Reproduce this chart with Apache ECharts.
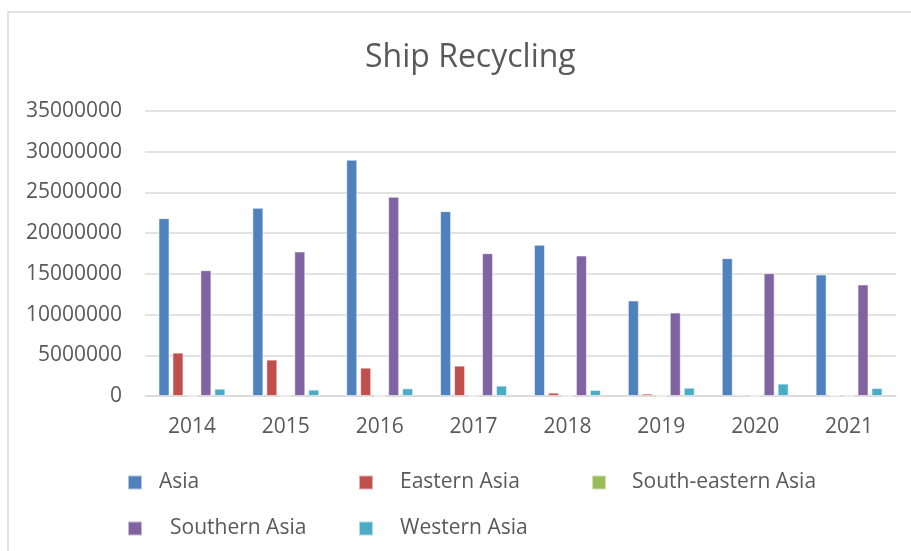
<!DOCTYPE html>
<html>
<head>
<meta charset="utf-8">
<script src="https://cdn.jsdelivr.net/npm/echarts@6/dist/echarts.min.js"></script>
<style>html,body{margin:0;padding:0;background:#fff;}#c{width:911px;height:551px;}</style>
</head>
<body>
<div id="c"></div>
<script>
const years = ['2014','2015','2016','2017','2018','2019','2020','2021'];
const asia = [21840000, 23110000, 29020000, 22700000, 18570000, 11720000, 16930000, 14920000];
const easternAsia = [5330000, 4470000, 3480000, 3730000, 410000, 290000, 160000, 60000];
const southEasternAsia = [0, 0, 0, 0, 0, 0, 0, 0];
const southernAsia = [15450000, 17750000, 24470000, 17540000, 17250000, 10250000, 15080000, 13690000];
const westernAsia = [900000, 780000, 940000, 1270000, 740000, 1020000, 1520000, 980000];
const yTicks = [0, 5000000, 10000000, 15000000, 20000000, 25000000, 30000000, 35000000];

const FONT = 'Open Sans';
const TXT = '#595959';
const colors = {
  'Asia': '#4F81BD',
  'Eastern Asia': '#C0504D',
  'South-eastern Asia': '#9BBB59',
  'Southern Asia': '#8064A2',
  'Western Asia': '#4BACC6'
};
const seriesData = [
  ['Asia', asia],
  ['Eastern Asia', easternAsia],
  ['South-eastern Asia', southEasternAsia],
  ['Southern Asia', southernAsia],
  ['Western Asia', westernAsia]
];
const legendPos = [
  {name:'Asia', left:127, top:472, pad:12},
  {name:'Eastern Asia', left:358, top:472, pad:22},
  {name:'South-eastern Asia', left:591, top:472, pad:21},
  {name:'Southern Asia', left:127, top:518, pad:23},
  {name:'Western Asia', left:358, top:518, pad:22}
];

const chart = echarts.init(document.getElementById('c'), null, {renderer:'canvas'});
chart.setOption({
  animation: false,
  backgroundColor: '#fff',
  title: {
    text: 'Ship Recycling', left: 360, top: 37,
    textStyle: {fontFamily: FONT, fontSize: 32, fontWeight: 'normal', color: TXT}
  },
  graphic: [{
    type: 'rect', shape: {x: 8, y: 12, width: 960, height: 600},
    style: {fill: 'none', stroke: '#d9d9d9', lineWidth: 1.5}, silent: true, z: -1
  }],
  legend: legendPos.map(p => ({
    data: [p.name], left: p.left, top: p.top, padding: 0,
    itemWidth: 14, itemHeight: 14, icon: 'rect',
    textStyle: {fontFamily: FONT, fontSize: 21, color: TXT, padding: [0,0,0,p.pad]}
  })),
  grid: {left: 145, right: 15, top: 111, bottom: 155, containLabel: false},
  xAxis: {
    type: 'category', data: years,
    axisLine: {lineStyle: {color: '#d9d9d9', width: 1.5}},
    axisTick: {show: false},
    axisLabel: {fontFamily: FONT, fontSize: 21, color: TXT, margin: 21}
  },
  yAxis: {
    type: 'value', min: yTicks[0], max: yTicks[yTicks.length-1], interval: yTicks[1]-yTicks[0],
    axisLine: {show: false}, axisTick: {show: false},
    splitLine: {lineStyle: {color: '#d9d9d9', width: 1.5}},
    axisLabel: {fontFamily: FONT, fontSize: 21, color: TXT, margin: 23, formatter: v => String(v)}
  },
  series: seriesData.map(([name, d]) => ({
    name, type: 'bar', data: d, barWidth: 11, barGap: '27%',
    itemStyle: {color: colors[name], borderColor: 'rgba(255,255,255,0.55)', borderWidth: 1}
  }))
});
</script>
</body>
</html>
